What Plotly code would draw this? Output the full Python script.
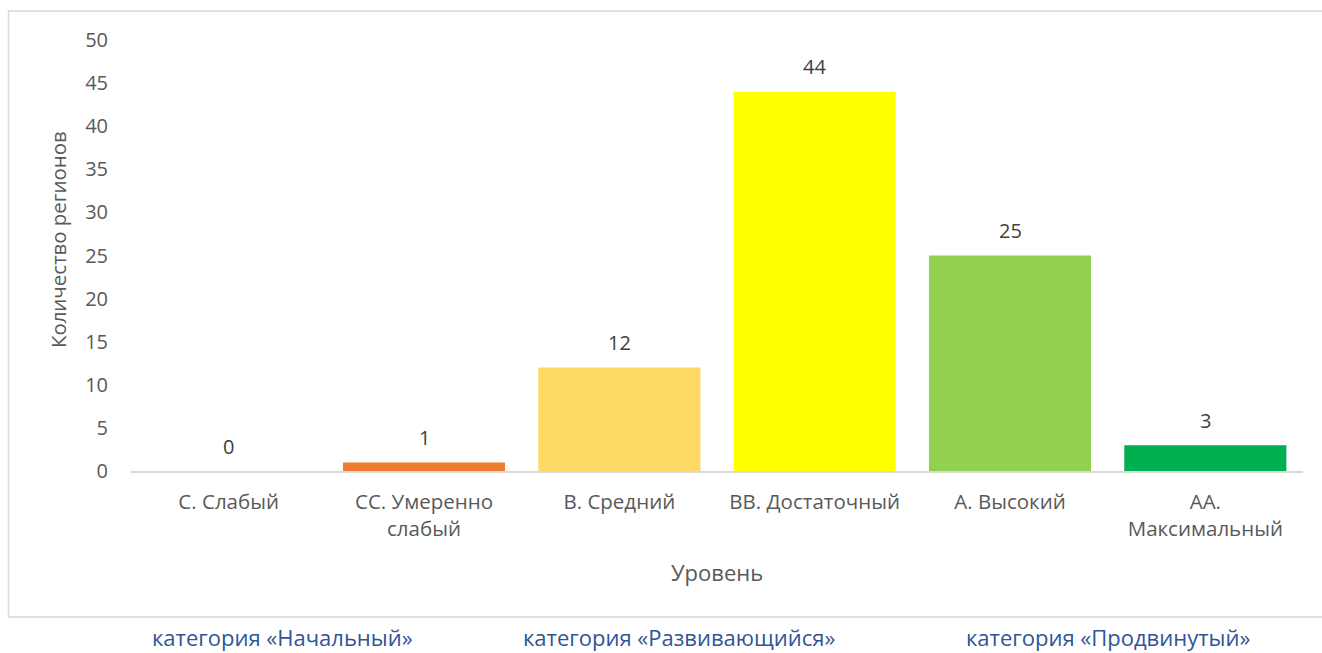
import plotly.graph_objects as go

categories = ["С. Слабый", "СС. Умеренно<br>слабый", "В. Средний", "ВВ. Достаточный", "А. Высокий", "АА.<br>Максимальный"]
values = [0, 1, 12, 44, 25, 3]
bar_colors = ["#A5A5A5", "#ED7D31", "#FFD966", "#FFFF00", "#92D050", "#00B050"]
y_ticks = [0, 5, 10, 15, 20, 25, 30, 35, 40, 45, 50]
y_title = "Количество регионов"
x_title = "Уровень"
group_labels = ["категория «Начальный»", "категория «Развивающийся»", "категория «Продвинутый»"]
group_label_x_px = [282, 679, 1108]

W, H = 1322, 653
L, R, T, B = 131, 19, 40, 182
PW, PH = W - L - R, H - T - B

def px_x(px):
    return (px - L) / PW

def px_y(py):
    return (H - B - py) / PH

FONT = "Open Sans"
TXT = "#595959"

fig = go.Figure()
fig.add_trace(go.Bar(
    x=categories, y=values,
    marker=dict(color=bar_colors, line=dict(width=0)),
    hoverinfo="x+y",
))

annotations = []
for c, v in zip(categories, values):
    annotations.append(dict(x=c, y=v, xref="x", yref="y", text=str(v), showarrow=False,
                            yanchor="middle", yshift=25,
                            font=dict(family=FONT, size=20, color="#404040")))
annotations.append(dict(x=px_x(58), y=px_y(240), xref="paper", yref="paper", text=y_title,
                        textangle=-90, showarrow=False, xanchor="center", yanchor="middle",
                        font=dict(family=FONT, size=20.4, color=TXT)))
annotations.append(dict(x=0.5, y=px_y(572), xref="paper", yref="paper", text=x_title,
                        showarrow=False, xanchor="center", yanchor="middle",
                        font=dict(family=FONT, size=22, color=TXT)))
for t, gx in zip(group_labels, group_label_x_px):
    annotations.append(dict(x=px_x(gx), y=px_y(654), xref="paper", yref="paper", text=t,
                            showarrow=False, xanchor="center", yanchor="bottom",
                            font=dict(family=FONT, size=22, color="#2F5597")))

fig.update_layout(
    width=W, height=H,
    margin=dict(l=L, r=R, t=T, b=B, pad=0),
    paper_bgcolor="white", plot_bgcolor="white",
    bargap=0.17,
    showlegend=False,
    font=dict(family=FONT, size=20, color=TXT),
    annotations=annotations,
    shapes=[dict(type="rect", xref="paper", yref="paper",
                 x0=px_x(8.5), x1=px_x(1340), y0=px_y(617), y1=px_y(11),
                 line=dict(color="#D9D9D9", width=1.5), fillcolor="rgba(0,0,0,0)", layer="below")],
)
fig.update_xaxes(showline=True, linecolor="#D9D9D9", linewidth=1.5, showgrid=False,
                 ticks="", ticklabelstandoff=12, tickfont=dict(family=FONT, size=20.5, color=TXT),
                 fixedrange=True)
fig.update_yaxes(range=[0, 50], tickvals=y_ticks, showline=False, showgrid=False, zeroline=False,
                 ticks="", ticklabelstandoff=22, tickfont=dict(family=FONT, size=20, color=TXT),
                 fixedrange=True)

fig.write_html("out.html", config={"displayModeBar": False},
               post_script="document.body.style.margin='0';document.body.style.overflow='hidden';")
